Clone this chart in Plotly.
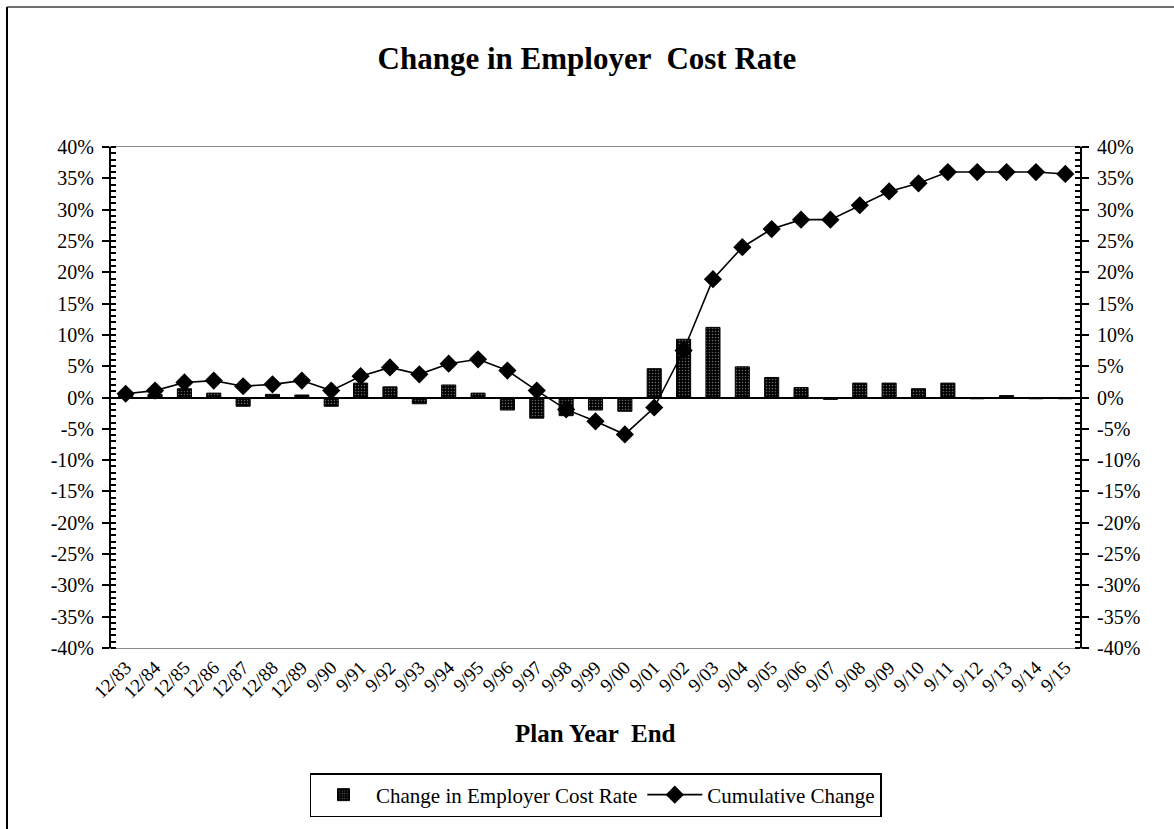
import plotly.graph_objects as go

# Plan year end labels
categories = ["12/83", "12/84", "12/85", "12/86", "12/87", "12/88", "12/89",
              "9/90", "9/91", "9/92", "9/93", "9/94", "9/95", "9/96", "9/97",
              "9/98", "9/99", "9/00", "9/01", "9/02", "9/03", "9/04", "9/05",
              "9/06", "9/07", "9/08", "9/09", "9/10", "9/11", "9/12", "9/13",
              "9/14", "9/15"]

# Year-over-year change in employer cost rate (%)
annual_change = [0.6, 0.5, 1.4, 0.7, -1.4, 0.5, 0.4,
                 -1.4, 2.3, 1.7, -1.0, 2.0, 0.7, -2.0, -3.3,
                 -2.9, -2.0, -2.2, 4.6, 9.3, 11.2, 4.9, 3.2,
                 1.6, -0.3, 2.3, 2.3, 1.4, 2.3, -0.2, 0.3,
                 -0.2, -0.2]

# Cumulative change since 12/83 (%)
cumulative_change = [0.6, 1.1, 2.4, 2.7, 1.8, 2.1, 2.7,
                     1.1, 3.4, 4.8, 3.7, 5.4, 6.1, 4.3, 1.1,
                     -1.9, -3.8, -5.9, -1.6, 7.5, 18.9, 24.0, 26.9,
                     28.4, 28.4, 30.7, 32.9, 34.2, 36.0, 36.0, 36.0,
                     36.0, 35.7]

tick_vals = list(range(-40, 41, 5))
tick_text = [f"{v}%" for v in tick_vals]

SERIF = "Liberation Serif, Times New Roman, serif"

fig = go.Figure()

fig.add_trace(go.Bar(
    x=categories,
    y=annual_change,
    name="Change in Employer Cost Rate",
    width=0.48,
    marker=dict(
        color="black",
        line=dict(color="black", width=1),
        pattern=dict(shape=".", fgcolor="#6a6a6a", bgcolor="black",
                     size=3, solidity=0.2, fillmode="replace"),
    ),
    yaxis="y",
))

fig.add_trace(go.Scatter(
    x=categories,
    y=cumulative_change,
    name="Cumulative Change",
    mode="lines+markers",
    line=dict(color="black", width=1.6),
    marker=dict(symbol="diamond", size=14, color="black"),
    yaxis="y2",
))

axis_common = dict(
    range=[-40, 40],
    tickvals=tick_vals,
    ticktext=tick_text,
    ticks="outside",
    ticklen=7,
    tickwidth=2,
    tickcolor="black",
    showline=True,
    linecolor="black",
    linewidth=2,
    showgrid=False,
    ticklabelstandoff=4,
    tickfont=dict(family=SERIF, size=20, color="black"),
    minor=dict(dtick=1, tick0=0, ticks="inside", ticklen=5,
               tickwidth=1.5, tickcolor="black", showgrid=False),
)

fig.update_layout(
    width=1174,
    height=829,
    margin=dict(l=111, r=94, t=147, b=181),
    paper_bgcolor="white",
    plot_bgcolor="white",
    bargap=0.52,
    title=dict(
        text="<b>Change in Employer  Cost Rate</b>",
        x=0.5, xanchor="center",
        y=1 - 58 / 829, yanchor="middle",
        font=dict(family=SERIF, size=31, color="black"),
    ),
    xaxis=dict(
        type="category",
        range=[-0.5, len(categories) - 0.5],
        tickangle=-45,
        ticks="",
        showline=True,
        linecolor="#8c8c8c",
        linewidth=1,
        mirror=True,
        showgrid=False,
        tickfont=dict(family=SERIF, size=19, color="black"),
    ),
    yaxis=dict(
        side="left",
        zeroline=True,
        zerolinecolor="black",
        zerolinewidth=2,
        **axis_common,
    ),
    yaxis2=dict(
        side="right",
        overlaying="y",
        zeroline=False,
        **axis_common,
    ),
    showlegend=True,
    legend=dict(
        orientation="h",
        x=0.5, xanchor="center",
        y=(648 - 773) / 501, yanchor="top",
        bordercolor="black",
        borderwidth=1.5,
        bgcolor="white",
        font=dict(family=SERIF, size=21, color="black"),
        traceorder="normal",
        itemwidth=55,
    ),
    annotations=[
        dict(
            text="<b>Plan Year  End</b>",
            x=0.5, xref="paper", xanchor="center",
            y=(648 - 733) / 501, yref="paper", yanchor="middle",
            showarrow=False,
            font=dict(family=SERIF, size=25, color="black"),
        ),
    ],
    shapes=[
        # outer frame: top and left edges
        dict(type="line", xref="paper", yref="paper",
             x0=(7 - 111) / 969, x1=(1180 - 111) / 969,
             y0=(648 - 7) / 501, y1=(648 - 7) / 501,
             line=dict(color="#6e6e6e", width=2)),
        dict(type="line", xref="paper", yref="paper",
             x0=(7 - 111) / 969, x1=(7 - 111) / 969,
             y0=(648 - 7) / 501, y1=(648 - 840) / 501,
             line=dict(color="black", width=2)),
    ],
)

fig.write_html("out.html")
